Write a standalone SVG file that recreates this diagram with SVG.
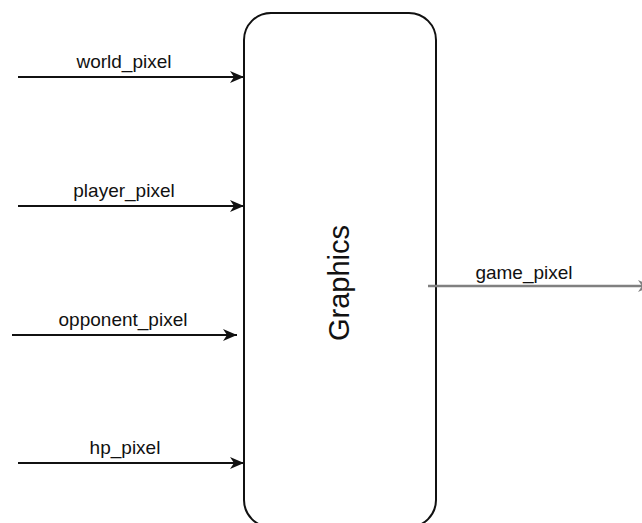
<svg xmlns="http://www.w3.org/2000/svg" width="642" height="523" viewBox="0 0 642 523">
  <style>
    .lbl { font-family: "Liberation Sans", Arial, Helvetica, sans-serif; font-size: 19px; fill: #111; text-anchor: middle; }
    .wire { fill: none; stroke: #111; stroke-width: 2; }
    .wire-out { fill: none; stroke: #808080; stroke-width: 2.5; }
    .block { fill: #fff; stroke: #111; stroke-width: 2; }
  </style>
  <defs>
    <marker id="arrow" markerUnits="userSpaceOnUse" markerWidth="16" markerHeight="14" refX="14" refY="7" orient="auto">
      <path d="M0,1 L14,7 L0,13 L4,7 Z" fill="#111"/>
    </marker>
    <marker id="arrow-grey" markerUnits="userSpaceOnUse" markerWidth="16" markerHeight="14" refX="14" refY="7" orient="auto">
      <path d="M0,1 L14,7 L0,13 L4,7 Z" fill="#808080"/>
    </marker>
  </defs>
  <rect width="642" height="523" fill="#fff"/>

  <g id="graphics">
    <rect class="block" x="244" y="13" width="192" height="514" rx="27" ry="27"/>
    <text class="lbl" style="font-size:29px" transform="translate(349,283) rotate(-90)">Graphics</text>
  </g>

  <g id="connectors">
    <path class="wire" d="M18,77 L244,77" marker-end="url(#arrow)"/>
    <path class="wire" d="M18,206 L244,206" marker-end="url(#arrow)"/>
    <path class="wire" d="M12,335 L237,335" marker-end="url(#arrow)"/>
    <path class="wire" d="M18,463 L244,463" marker-end="url(#arrow)"/>
    <path class="wire-out" d="M428,286 L652,286" marker-end="url(#arrow-grey)"/>
    <text class="lbl" x="124" y="68">world_pixel</text>
    <text class="lbl" x="124" y="197">player_pixel</text>
    <text class="lbl" x="123" y="326">opponent_pixel</text>
    <text class="lbl" x="125" y="454">hp_pixel</text>
    <text class="lbl" x="524" y="279">game_pixel</text>
  </g>
</svg>
